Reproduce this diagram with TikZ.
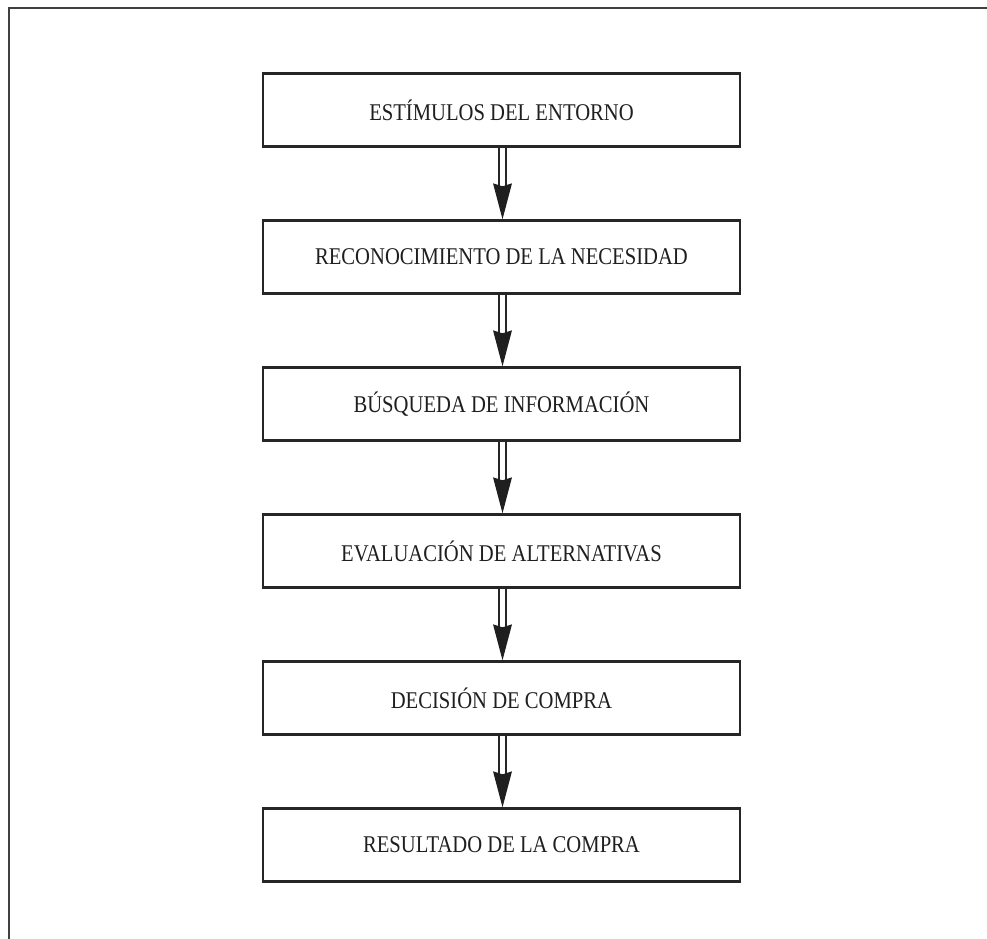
\documentclass[tikz,border=0pt]{standalone}
\usepackage{fontspec}
\newfontfamily\boxfont[FakeStretch=0.86]{Liberation Serif}
\usetikzlibrary{calc}
\begin{document}
\begin{tikzpicture}[x=1pt,y=-1pt,
  stagebox/.style={draw=black!85, line width=2.4pt, fill=white,
    minimum width=477pt, minimum height=73pt, inner sep=0pt,
    font=\boxfont\fontsize{24}{28}\selectfont, text=black!88},
  shaft/.style={draw=black!85, line width=1.8pt},
  headfill/.style={fill=black!88, draw=none},
  frame/.style={draw=black!75, line width=2.6pt}]
\useasboundingbox (0,0) rectangle (987,938);
% outer frame (runs off the page at right and bottom)
\draw[frame] (9,960) -- (9,8) -- (1010,8);

% process stages
\node[stagebox] (s1) at (501.5,110) {ESTÍMULOS DEL ENTORNO};
\node[stagebox] (s2) at (501.5,257) {RECONOCIMIENTO DE LA NECESIDAD};
\node[stagebox] (s3) at (501.5,404) {BÚSQUEDA DE INFORMACIÓN};
\node[stagebox] (s4) at (501.5,551) {EVALUACIÓN DE ALTERNATIVAS};
\node[stagebox] (s5) at (501.5,698) {DECISIÓN DE COMPRA};
\node[stagebox] (s6) at (501.5,845) {RESULTADO DE LA COMPRA};

% double-shafted arrows between consecutive stages
\foreach \a/\b in {s1/s2,s2/s3,s3/s4,s4/s5,s5/s6}{
  \draw[shaft] ($(\a.south)+(-2.5,0)$) -- ($(\b.north)+(-2.5,-33)$);
  \draw[shaft] ($(\a.south)+(4.5,0)$) -- ($(\b.north)+(4.5,-33)$);
  \fill[headfill] ($(\b.north)+(-8.5,-36)$) -- ($(\b.north)+(1,0)$)
    -- ($(\b.north)+(10.5,-36)$) -- ($(\b.north)+(1,-33)$) -- cycle;
}
\end{tikzpicture}
\end{document}
